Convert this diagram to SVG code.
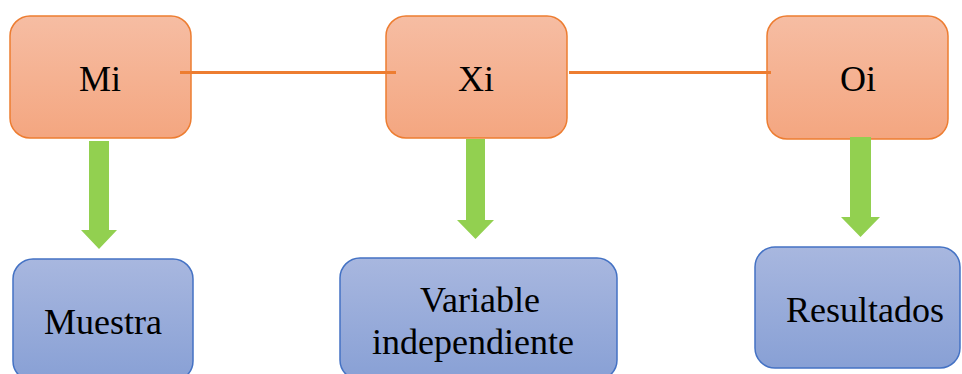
<svg xmlns="http://www.w3.org/2000/svg" width="962" height="374" viewBox="0 0 962 374">
<defs>
<linearGradient id="gOr" x1="0" y1="0" x2="0" y2="1"><stop offset="0" stop-color="#F6BDA3"/><stop offset="1" stop-color="#F4A680"/></linearGradient>
<linearGradient id="gBl" x1="0" y1="0" x2="0" y2="1"><stop offset="0" stop-color="#A8B7DF"/><stop offset="1" stop-color="#88A0D5"/></linearGradient>
<style>
.or{fill:url(#gOr);stroke:#ED7D31;stroke-width:1.5}
.bl{fill:url(#gBl);stroke:#4472C4;stroke-width:1.5}
.t{font-family:'Liberation Serif',serif;font-size:36px;fill:#000;text-anchor:middle}
.ln{stroke:#ED7D31;stroke-width:3;fill:none}
.ar{fill:#92D050}
</style>
</defs>
<g id="node-mi"><rect class="or" x="10" y="16" width="181" height="122" rx="20"/><text class="t" font-family="Liberation Serif, serif" x="100" y="91">Mi</text></g>
<g id="node-xi"><rect class="or" x="386" y="16" width="181" height="122" rx="20"/><text class="t" font-family="Liberation Serif, serif" x="476" y="91">Xi</text></g>
<g id="node-oi"><rect class="or" x="767" y="16" width="181" height="123" rx="20"/><text class="t" font-family="Liberation Serif, serif" x="858" y="91">Oi</text></g>
<g id="node-muestra"><rect class="bl" x="13" y="259" width="180" height="122" rx="20"/><text class="t" font-family="Liberation Serif, serif" x="103" y="334">Muestra</text></g>
<g id="node-variable"><rect class="bl" x="340" y="258" width="277" height="122" rx="20"/><text class="t" font-family="Liberation Serif, serif" x="480" y="312">Variable</text><text class="t" font-family="Liberation Serif, serif" x="473" y="354">independiente</text></g>
<g id="node-resultados"><rect class="bl" x="755" y="247" width="205" height="121" rx="20"/><text class="t" font-family="Liberation Serif, serif" x="865" y="322">Resultados</text></g>
<g id="connectors">
<line class="ln" x1="180" y1="72.5" x2="396" y2="72.5"/>
<line class="ln" x1="569" y1="72.5" x2="771" y2="72.5"/>
<path class="ar" d="M89,141 H109 V230 H117 L99,249 L81,230 H89 Z"/>
<path class="ar" d="M466,139 H485 V220 H494 L475.5,239 L457,220 H466 Z"/>
<path class="ar" d="M850,137 H871 V217 H880 L860.5,237 L841,217 H850 Z"/>
</g>
</svg>
